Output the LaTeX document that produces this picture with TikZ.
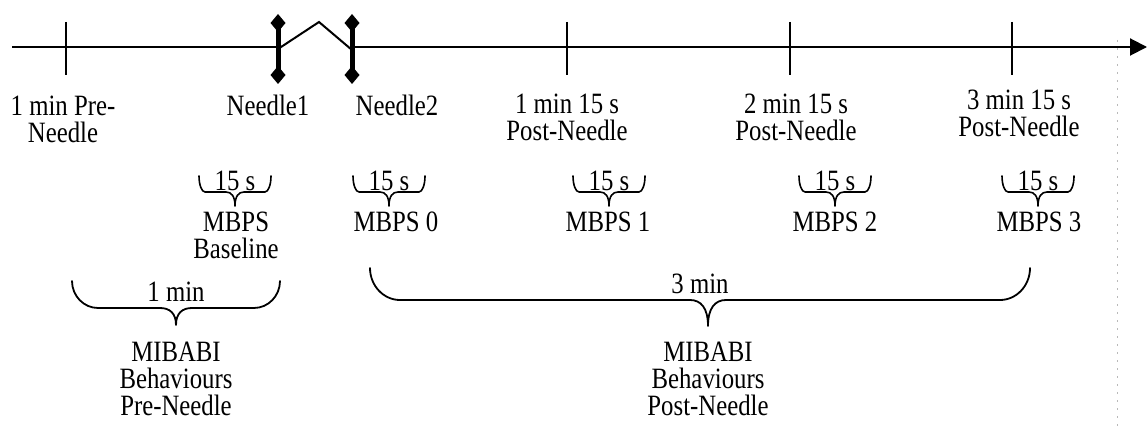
\documentclass[tikz,border=0pt]{standalone}
\usepackage{fontspec}
\setmainfont{Liberation Serif}[FakeStretch=0.84]
\usetikzlibrary{arrows.meta,calc}
\begin{document}
\begin{tikzpicture}[x=1pt,y=-1pt,
  lbl/.style={align=center, inner sep=0pt, font=\fontsize{29.5}{27}\selectfont},
  axisline/.style={line width=2pt},
  tickmark/.style={line width=1.6pt},
  needlebar/.style={line width=5pt,
    {Diamond[length=18pt,width=15pt]}-{Diamond[length=18pt,width=15pt]}},
  gapline/.style={line width=2pt, line join=miter},
  bracestroke/.style={line width=#1, line cap=round, line join=round},
  % under-brace: origin at the middle of the bar, tip pointing down
  % #1 left half width, #2 right half width, #3 rise of the ends,
  % #4 depth of the tip, #5 corner size at the ends, #6 size of the middle curl,
  % #7 stroke width
  pics/ubrace/.style n args={7}{code={
    \draw[bracestroke=#7]
      (-#1,-#3) .. controls (-#1,-0.45*#3) and (-#1+0.45*#5,0) .. (-#1+#5,0)
      -- (-#6,0) .. controls (-0.4*#6,0) and (0,0.3*#4) .. (0,#4)
      .. controls (0,0.3*#4) and (0.4*#6,0) .. (#6,0)
      -- (#2-#5,0) .. controls (#2-0.45*#5,0) and (#2,-0.45*#3) .. (#2,-#3);
  }},
  edgeline/.style={gray!55, line width=0.7pt, dash pattern=on 2pt off 6pt},
]
\useasboundingbox (0,0) rectangle (1147,430);

% time axis with the gap between the two needles
\coordinate (axstart) at (12,47);
\coordinate (n1) at (278,47);
\coordinate (n2) at (352,47);
\coordinate (axend) at (1147,47);
\coordinate (peak) at (319,22);
\draw[axisline] (axstart) -- (n1);
\draw[axisline, -{Triangle[length=17pt,width=17pt]}] (n2) -- (axend);
\draw[gapline] ([yshift=-2pt]n1) -- (peak) -- ([yshift=-3pt]n2);

% needle markers
\draw[needlebar] ([yshift=-37pt]n1) -- ([yshift=33pt]n1);
\draw[needlebar] ([yshift=-37pt]n2) -- ([yshift=33pt]n2);

% tick marks
\foreach \name/\x in {tpre/66, tp1/567, tp2/790, tp3/1012}{
  \coordinate (\name top) at (\x,22);
  \coordinate (\name bot) at (\x,75);
  \draw[tickmark] (\name top) -- (\name bot);
}

% labels under the axis
\node[lbl] (lpre) at (63,119) {1 min Pre-\\Needle};
\node[lbl] (lneedleA) at (268,105) {Needle1};
\node[lbl] (lneedleB) at (397,105) {Needle2};
\node[lbl] (lpost1) at (567,117) {1 min 15 s\\Post-Needle};
\node[lbl] (lpost2) at (796,117) {2 min 15 s\\Post-Needle};
\node[lbl] (lpost3) at (1019,113) {3 min 15 s\\Post-Needle};

% 15 s scoring windows
\foreach \name/\x in {sb/235, s0/389, s1/609, s2/835, s3/1038}{
  \coordinate (\name mid) at (\x,192);
  \pic (\name br) at (\name mid) {ubrace={36}{36}{16}{14}{6}{9}{1.6pt}};
  \node[lbl] (\name txt) at ($(\name mid)+(0,-11)$) {15 s};
}
\node[lbl] (mbpsb) at (236,235) {MBPS\\Baseline};
\node[lbl] (mbps0) at (396,222) {MBPS 0};
\node[lbl] (mbps1) at (608,222) {MBPS 1};
\node[lbl] (mbps2) at (835,222) {MBPS 2};
\node[lbl] (mbps3) at (1039,222) {MBPS 3};

% behaviour observation periods
\coordinate (premid) at (176,308);
\pic (prebr) at (premid) {ubrace={104}{104}{27}{17}{26}{16}{1.8pt}};
\node[lbl] (premin) at (176,292) {1 min};
\node[lbl] (mibpre) at (176,379) {MIBABI\\Behaviours\\Pre-Needle};

\coordinate (postmid) at (708,300);
\pic (postbr) at (postmid) {ubrace={338}{322}{32}{26}{30}{18}{1.8pt}};
\node[lbl] (postmin) at (700,284) {3 min};
\node[lbl] (mibpost) at (708,379) {MIBABI\\Behaviours\\Post-Needle};

% faint page edge
\coordinate (edgetop) at (1117,40);
\coordinate (edgebot) at (1117,430);
\draw[edgeline] (edgetop) -- (edgebot);
\end{tikzpicture}
\end{document}
